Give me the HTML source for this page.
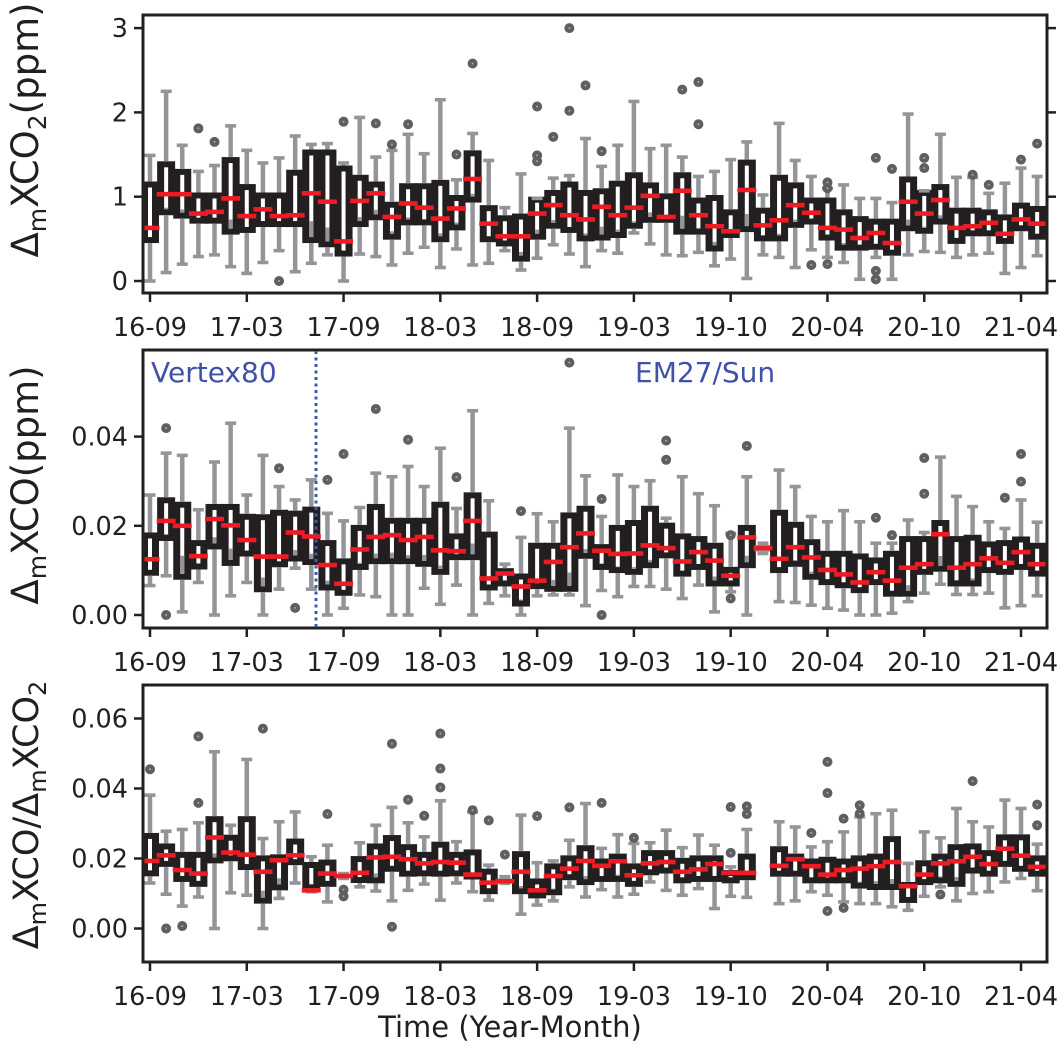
<!DOCTYPE html>
<html><head><meta charset="utf-8">
<style>
html,body{margin:0;padding:0;background:#fff;}
svg{display:block;font-family:"DejaVu Sans","Liberation Sans",sans-serif;}
</style></head>
<body>
<svg id="chart" width="1059" height="1047" viewBox="0 0 1059 1047" xmlns="http://www.w3.org/2000/svg">
<rect width="1059" height="1047" fill="#fff"/>
<g id="panels"></g>
<text transform="translate(38,130) rotate(-90)" text-anchor="middle" font-size="37" fill="#231f20">Δ<tspan font-size="25" dy="8">m</tspan><tspan dy="-8">XCO</tspan><tspan font-size="25" dy="8">2</tspan><tspan dy="-8">(ppm)</tspan></text>
<text transform="translate(38,485) rotate(-90)" text-anchor="middle" font-size="37" fill="#231f20">Δ<tspan font-size="25" dy="8">m</tspan><tspan dy="-8">XCO(ppm)</tspan></text>
<text transform="translate(38,815) rotate(-90)" text-anchor="middle" font-size="35" fill="#231f20">Δ<tspan font-size="24" dy="8">m</tspan><tspan dy="-8">XCO/Δ</tspan><tspan font-size="24" dy="8">m</tspan><tspan dy="-8">XCO</tspan><tspan font-size="24" dy="8">2</tspan></text>
<text x="510" y="1037" text-anchor="middle" font-size="29" fill="#231f20">Time (Year-Month)</text>
</svg>
<script>
const categories = ["16-09","16-10","16-11","16-12","17-01","17-02","17-03","17-04","17-05","17-06","17-07","17-08","17-09","17-10","17-11","17-12","18-01","18-02","18-03","18-04","18-05","18-06","18-07","18-08","18-09","18-10","18-11","18-12","19-01","19-02","19-03","19-04","19-05","19-06","19-07","19-09","19-10","19-11","19-12","20-01","20-02","20-03","20-04","20-05","20-06","20-07","20-08","20-09","20-10","20-11","20-12","21-01","21-02","21-03","21-04","21-05"];
const xTickLabels = ["16-09","17-03","17-09","18-03","18-09","19-03","19-10","20-04","20-10","21-04"];

// Panel 1: ΔmXCO2 (ppm)
const co2WhiskerHigh = [1.49,2.25,1.61,1.30,1.37,1.84,1.55,1.40,1.46,1.72,1.62,1.63,1.40,1.94,1.47,1.55,1.74,1.51,2.15,1.20,1.75,1.43,0.87,1.27,0.98,1.22,1.25,1.69,1.36,1.61,2.13,1.57,1.61,1.47,1.24,1.30,1.44,1.65,1.02,1.87,1.43,1.24,1.10,1.14,0.98,0.98,0.93,1.98,1.07,1.74,1.23,1.23,1.04,1.16,1.34,1.24];
const co2Q3 = [1.18,1.42,1.33,1.05,1.05,1.47,1.15,1.05,1.05,1.32,1.56,1.56,1.37,1.26,1.18,0.94,1.16,1.16,1.20,1.02,1.55,0.90,0.78,0.80,1.00,1.08,1.18,1.08,1.10,1.19,1.29,1.17,1.04,1.29,0.99,1.02,0.85,1.44,0.87,1.26,1.17,0.99,0.99,0.85,0.77,0.74,0.74,1.24,1.08,1.15,0.87,0.87,0.85,0.79,0.93,0.89];
const co2Median = [0.63,1.03,1.03,0.80,0.82,0.98,0.77,0.85,0.77,0.78,1.04,0.94,0.47,0.95,1.04,0.76,0.92,0.87,0.74,0.86,1.21,0.68,0.53,0.53,0.80,0.90,0.78,0.73,0.88,0.78,0.87,1.01,0.76,1.07,0.78,0.65,0.59,1.08,0.66,0.72,0.90,0.81,0.63,0.61,0.51,0.57,0.45,0.94,0.80,0.96,0.63,0.65,0.69,0.56,0.73,0.68];
const co2Q1 = [0.45,0.78,0.74,0.68,0.68,0.55,0.57,0.64,0.64,0.64,0.45,0.40,0.29,0.64,0.72,0.49,0.66,0.66,0.46,0.60,0.93,0.46,0.41,0.23,0.49,0.62,0.57,0.47,0.48,0.51,0.62,0.69,0.69,0.55,0.55,0.35,0.51,0.58,0.47,0.47,0.63,0.67,0.48,0.36,0.36,0.37,0.30,0.59,0.56,0.67,0.44,0.53,0.53,0.44,0.59,0.49];
const co2WhiskerLow = [0,0.10,0.20,0.29,0.31,0.17,0.09,0.22,0.36,0.11,0.21,0.31,0,0.32,0.29,0.19,0.33,0.40,0.16,0.38,0.19,0.21,0.36,0.13,0.27,0.43,0.32,0.17,0.36,0.33,0.57,0.44,0.31,0.30,0.34,0.18,0.26,0.03,0.31,0.28,0.16,0.37,0.28,0.22,0.02,0.28,0.02,0.31,0.35,0.34,0.28,0.31,0.33,0.09,0.16,0.30];
const co2OutlierIdx = [3,4,8,12,14,15,16,19,20,24,24,24,25,26,26,27,28,33,34,34,41,42,42,42,45,45,45,46,48,48,51,52,54,55];
const co2OutlierVal = [1.81,1.65,0,1.89,1.87,1.62,1.86,1.50,2.58,2.07,1.49,1.42,1.71,3.0,2.02,2.32,1.54,2.27,2.36,1.86,0.19,1.17,1.10,0.20,1.46,0.12,0.02,1.33,1.46,1.34,1.26,1.14,1.44,1.63];
const co2Ticks = [0,1,2,3];
const co2TickLabels = ["0","1","2","3"];

// Panel 2: ΔmXCO (ppm), values in 1e-3 ppm
const coWhiskerHigh = [26.9,36.3,35.8,23.6,34.3,43.0,26.9,35.8,28.8,25.8,30.3,22.8,21.1,24.1,31.8,31.0,33.3,28.8,37.4,23.9,45.8,25.6,11.4,17.4,22.7,20.9,41.9,31.2,22.1,31.4,28.8,30.1,21.7,31.0,27.2,24.5,18.3,31.0,16.1,32.5,28.8,22.1,20.9,23.4,20.9,16.1,16.1,21.3,18.5,35.4,26.6,24.3,20.9,19.4,25.8,20.8];
const coQ3 = [18.5,26.4,25.4,16.8,24.9,24.9,22.7,22.6,23.6,23.4,24.3,16.8,12.7,20.2,24.9,21.8,21.8,21.8,25.4,18.3,27.5,18.7,10.5,9.3,16.2,16.2,23.0,24.5,15.9,20.2,21.3,24.5,20.7,18.3,17.7,16.2,10.8,20.2,15.7,23.6,20.9,17.0,14.4,14.4,13.8,12.9,14.4,17.7,17.7,21.3,17.7,18.0,16.5,16.8,17.6,16.2];
const coMedian = [12.5,21.1,20.0,13.2,21.5,20.1,16.8,13.1,13.1,18.5,17.6,11.2,7.0,14.7,17.5,17.9,16.8,17.5,14.5,14.3,21.1,8.2,9.3,6.4,7.7,11.9,15.2,18.3,14.4,13.7,13.8,15.6,15.0,12.0,14.1,12.2,8.8,17.4,15.0,12.6,15.2,12.9,10.1,9.1,7.3,9.6,7.7,10.6,11.4,18.1,10.6,11.4,12.7,11.7,14.1,11.4];
const coQ1 = [8.8,16.6,7.9,10.2,14.7,11.0,13.1,5.1,10.7,12.0,11.2,5.5,4.3,10.1,11.4,11.4,11.4,10.8,9.0,12.3,12.3,5.5,6.4,1.9,5.8,5.2,5.2,12.6,10.1,9.4,9.0,10.5,12.7,8.6,10.1,6.4,6.4,10.5,14.2,9.4,10.8,7.9,6.7,6.0,4.9,6.7,4.1,4.1,9.0,9.7,6.4,6.4,9.4,9.0,10.1,8.6];
const coWhiskerLow = [6.6,8.8,0.7,7.3,0,4.3,7.3,0,5.8,10.5,5.8,0,1.5,4.5,4.1,0,0,6.0,2.4,6.7,0,2.6,4.3,0,4.3,4.5,4.5,2.1,5.5,4.1,6.4,6.4,5.8,3.7,6.7,0.7,5.2,0,13.8,3.0,2.8,2.2,1.5,1.1,0,0,0.4,3.0,4.9,6.9,4.6,4.6,4.9,1.6,2.1,4.3];
const coOutlierIdx = [1,1,8,9,11,12,14,16,19,23,26,28,28,32,32,36,36,37,45,46,48,48,53,54,54];
const coOutlierVal = [41.9,0,32.9,1.6,30.3,36.1,46.2,39.3,30.9,23.3,56.6,26.0,0,39.1,34.8,17.9,3.7,37.9,21.8,17.9,35.2,27.2,26.3,36.1,29.9];
const coTicks = [0,20,40];
const coTickLabels = ["0.00","0.02","0.04"];

// Panel 3: ratio, values in 1e-3
const ratioWhiskerHigh = [38.1,27.8,28.3,30.2,50.5,29.5,48.3,25.7,30.5,33.3,20.5,23.8,15.7,24.5,29.5,34.6,30.2,26.2,36.5,24.8,33.3,18.1,14.8,32.4,18.8,19.3,25.2,35.7,22.9,26.8,24.3,24.5,28.1,23.1,26.7,23.8,17.6,28.3,null,30.5,29.0,23.3,24.8,27.6,31.9,32.8,33.8,18.6,27.6,25.9,34.3,30.5,29.0,36.7,34.3,24.1];
const ratioQ3 = [27.3,24.3,21.9,21.9,32.1,26.8,32.1,20.9,21.2,25.7,19.0,19.7,15.5,20.7,24.3,26.7,24.1,21.9,24.8,21.9,22.6,17.1,14.3,22.1,14.3,18.6,20.9,23.8,20.0,21.4,18.6,22.4,22.4,20.2,20.9,20.9,16.7,21.4,null,23.5,21.4,20.0,20.5,20.0,20.9,21.4,26.4,13.3,19.5,21.4,24.1,24.3,22.4,26.9,26.9,20.9];
const ratioMedian = [19.3,20.9,16.7,15.7,26.0,21.7,21.1,16.2,19.5,20.9,10.9,15.7,15.0,15.9,20.3,20.5,19.8,18.6,19.0,18.8,15.4,13.1,13.5,16.2,10.9,15.0,17.1,19.3,17.9,19.2,15.2,18.6,19.0,16.2,16.9,18.4,15.9,15.9,null,17.9,19.8,17.8,15.4,16.7,17.1,17.8,19.0,12.1,15.4,18.6,19.2,20.5,18.4,22.8,20.8,17.6];
const ratioQ1 = [14.9,17.6,13.3,11.9,18.6,19.2,16.7,7.1,10.9,18.1,10.9,11.9,14.5,13.0,12.9,16.2,14.8,14.9,14.8,14.9,14.0,9.8,13.3,9.8,8.6,9.5,13.8,12.4,13.3,13.3,11.9,15.2,15.7,12.9,13.3,13.3,12.9,13.8,null,14.8,14.8,12.9,12.9,12.9,11.4,11.0,11.0,7.3,12.4,12.9,11.9,15.7,14.8,17.6,16.2,14.8];
const ratioWhiskerLow = [13.0,9.8,6.4,9.0,0,10.2,9.5,0,8.6,13.0,10.5,7.6,14.3,11.9,10.7,7.9,10.9,12.7,8.1,13.0,10.5,8.1,12.9,4.1,6.7,7.9,11.9,9.0,11.1,9.0,9.8,13.3,10.9,9.5,11.4,5.7,9.2,8.9,null,7.1,7.9,10.5,9.5,7.6,7.1,7.1,6.2,5.2,9.2,11.9,7.9,10.0,10.5,13.3,14.3,10.8];
const ratioOutlierIdx = [0,1,2,3,3,7,11,12,12,15,15,16,17,18,18,18,20,21,22,24,26,28,30,36,36,37,37,41,42,42,42,43,43,44,44,49,51,55,55];
const ratioOutlierVal = [45.5,0,0.7,54.9,35.9,57.1,32.7,11.1,9.2,52.8,0.5,36.8,32.2,55.7,45.7,40.3,33.8,30.9,21.1,32.1,34.6,35.9,25.9,34.7,21.6,34.9,32.7,27.3,47.6,38.7,5.0,31.4,5.9,35.2,32.8,9.7,42.1,35.4,29.5];
const ratioTicks = [0,20,40,60];
const ratioTickLabels = ["0.00","0.02","0.04","0.06"];

const NS = "http://www.w3.org/2000/svg";
const root = document.getElementById("panels");
const X0 = 150, DX = 16.13, LEFT = 143, RIGHT = 1047;
function xScale(i){ return X0 + DX * i; }

function mk(tag, attrs, parent){
  const e = document.createElementNS(NS, tag);
  for (const k in attrs) e.setAttribute(k, attrs[k]);
  parent.appendChild(e);
  return e;
}

function drawPanel(p){
  const g = mk("g", {}, root);
  
  
  const y = v => p.zeroY - v * p.k;
  const clipId = "clip-" + p.name;
  const cp = mk("clipPath", {id: clipId}, g);
  mk("rect", {x: LEFT, y: p.top, width: RIGHT - LEFT, height: p.bottom - p.top}, cp);
  const plot = mk("g", {"clip-path": "url(#" + clipId + ")"}, g);
  p.ticks.forEach((t, j) => {
    const ty = y(t);
    const tk = mk("line", {x1: LEFT - 9, x2: LEFT, y1: ty, y2: ty, stroke: "#231f20", "stroke-width": 2.5}, g);
    
    
    if (p.rightTicks) {
      const rt = mk("line", {x1: RIGHT, x2: RIGHT + 9, y1: ty, y2: ty, stroke: "#231f20", "stroke-width": 2.5}, g);
      
      
    }
    const lb = mk("text", {x: LEFT - 15, y: ty + 9, "text-anchor": "end", "font-size": 25.5, fill: "#231f20"}, g);
    lb.textContent = p.tickLabels[j];
    
    
  });
  xTickLabels.forEach(lab => {
    const i = categories.indexOf(lab);
    const tx = xScale(i);
    const tk = mk("line", {x1: tx, x2: tx, y1: p.bottom, y2: p.bottom + 9, stroke: "#231f20", "stroke-width": 2.5}, g);
    
    
    const lb = mk("text", {x: tx, y: p.bottom + 43, "text-anchor": "middle", "font-size": 25.5, fill: "#231f20"}, g);
    lb.textContent = lab;
    
    
  });
  const boxLayer = mk("g", {}, plot);
  const whiskerLayer = mk("g", {}, plot);
  const medianLayer = mk("g", {}, plot);
  categories.forEach((c, i) => {
    if (p.med[i] === null) return;
    const cx = xScale(i);
    const yt = y(p.wt[i]), yb = y(p.wb[i]), y3 = y(p.q3[i]), y1 = y(p.q1[i]), ym = y(p.med[i]);
    const h = y1 - y3;
    const bx = mk("g", {}, boxLayer);
    
    
    if (h < 9) {
      mk("rect", {x: cx - 8, y: y3, width: 16, height: Math.max(h, 2), fill: "#939598"}, bx);
    } else {
      mk("rect", {x: cx - 9, y: y3, width: 18, height: h, fill: "#231f20"}, bx);
      mk("rect", {x: cx - 2, y: y3 + 6, width: 4, height: h - 12, fill: "#fff"}, bx);
      const gTop = (ym + y1) / 2 + 3;
      if (y1 - 6 > gTop) mk("rect", {x: cx - 2, y: gTop, width: 4, height: y1 - 6 - gTop, fill: "#939598"}, bx);
    }
    const wk = mk("g", {}, whiskerLayer);
    
    
    mk("line", {x1: cx, x2: cx, y1: yt, y2: y3, stroke: "#939598", "stroke-width": 4.5}, wk);
    mk("line", {x1: cx, x2: cx, y1: y1, y2: yb, stroke: "#939598", "stroke-width": 4.5}, wk);
    mk("rect", {x: cx - 5.5, y: yt - 1.8, width: 11, height: 3.6, fill: "#939598"}, wk);
    mk("rect", {x: cx - 5.5, y: yb - 1.8, width: 11, height: 3.6, fill: "#939598"}, wk);
    const md = mk("rect", {x: cx - 9.5, y: ym - 2.3, width: 19, height: 4.6, fill: "#ed1c24"}, medianLayer);
    
    
  });
  p.outIdx.forEach((i, j) => {
    const cx = xScale(i), cy = y(p.outVal[j]);
    const o = mk("circle", {cx: cx, cy: cy, r: 5, fill: "#5e5f62"}, plot);
    
    
    mk("circle", {cx: cx, cy: cy, r: 1, fill: "#a7a9ac"}, plot);
  });
  const fr = mk("rect", {x: LEFT, y: p.top, width: RIGHT - LEFT, height: p.bottom - p.top, fill: "none", stroke: "#231f20", "stroke-width": 3}, g);
  
  
  return g;
}

drawPanel({name: "panel-xco2", top: 15, bottom: 293, zeroY: 281, k: 84.3, rightTicks: true,
  wt: co2WhiskerHigh, q3: co2Q3, med: co2Median, q1: co2Q1, wb: co2WhiskerLow,
  outIdx: co2OutlierIdx, outVal: co2OutlierVal, ticks: co2Ticks, tickLabels: co2TickLabels});
const p2 = drawPanel({name: "panel-xco", top: 350, bottom: 628, zeroY: 615, k: 4.46, rightTicks: false,
  wt: coWhiskerHigh, q3: coQ3, med: coMedian, q1: coQ1, wb: coWhiskerLow,
  outIdx: coOutlierIdx, outVal: coOutlierVal, ticks: coTicks, tickLabels: coTickLabels});
drawPanel({name: "panel-ratio", top: 685, bottom: 962, zeroY: 928.5, k: 3.5, rightTicks: false,
  wt: ratioWhiskerHigh, q3: ratioQ3, med: ratioMedian, q1: ratioQ1, wb: ratioWhiskerLow,
  outIdx: ratioOutlierIdx, outVal: ratioOutlierVal, ticks: ratioTicks, tickLabels: ratioTickLabels});

const sep = mk("line", {x1: 316, x2: 316, y1: 351, y2: 627, stroke: "#3a5bb0", "stroke-width": 3, "stroke-dasharray": "3,3.5"}, p2);


const t1 = mk("text", {x: 151, y: 382, "font-size": 28, fill: "#3f51a8"}, p2);
t1.textContent = "Vertex80";


const t2 = mk("text", {x: 635, y: 382, "font-size": 28, fill: "#3f51a8"}, p2);
t2.textContent = "EM27/Sun";


</script>
</body></html>
